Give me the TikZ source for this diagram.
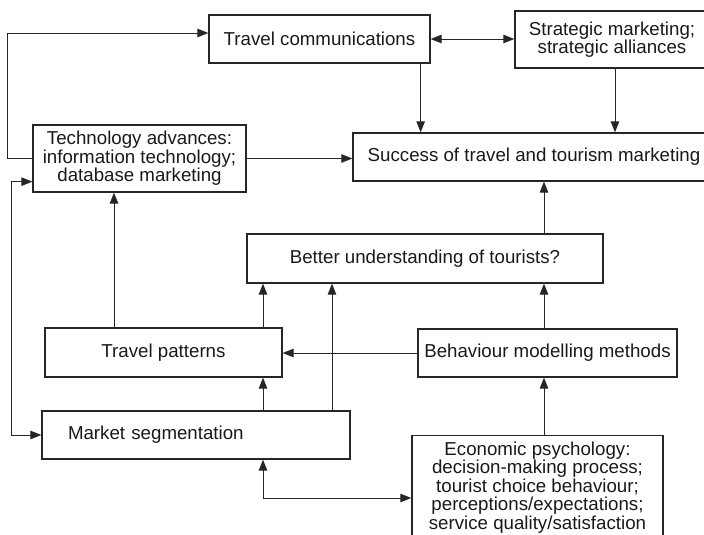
\documentclass[tikz,border=0pt]{standalone}
\usepackage{fontspec}
\setmainfont{Liberation Sans}
\usetikzlibrary{arrows.meta,calc}
\begin{document}
\begin{tikzpicture}[x=1pt,y=-1pt,
  box/.style={draw=black!85,line width=1.3pt,inner sep=0pt,align=center,
    font=\fontsize{18.7}{18.4}\selectfont,text=black!90},
  link/.style={line width=0.9pt,draw=black!85,
    -{Triangle[length=11pt,width=8.5pt]}},
  twoway/.style={line width=0.9pt,draw=black!85,
    {Triangle[length=11pt,width=8.5pt]}-{Triangle[length=11pt,width=8.5pt]}}]
\useasboundingbox (0,0) rectangle (704,535);
\clip (0,0) rectangle (704,535);

% boxes
\node[box,minimum width=221pt,minimum height=48pt] (comm) at (319.5,39) {Travel communications};
\node[box,minimum width=194pt,minimum height=57pt] (strat) at (612,39.5) {Strategic marketing;\\strategic alliances};
\node[box,minimum width=213pt,minimum height=67pt] (tech) at (139.5,158.5) {Technology advances:\\information technology;\\database marketing};
\node[box,minimum width=362pt,minimum height=48pt] (succ) at (534,157) {Success of travel and tourism marketing};
\node[box,minimum width=356pt,minimum height=49pt] (better) at (425,258.5) {Better understanding of tourists?};
\node[box,minimum width=237pt,minimum height=49pt] (patt) at (163.5,352.5) {Travel patterns};
\node[box,minimum width=259pt,minimum height=48pt] (behav) at (547.5,353) {Behaviour modelling methods};
\node[box,minimum height=48pt,text width=256pt,inner xsep=26pt,align=left] (mseg) at (196,435) {Market segmentation};
\node[box,minimum width=251pt,minimum height=104pt] (econ) at (537.5,487.5) {Economic psychology:\\decision-making process;\\tourist choice behaviour;\\perceptions/expectations;\\service quality/satisfaction};

% columns and rows shared by several connectors
\coordinate (spine) at (544,0);
\coordinate (colA) at (263,0);
\coordinate (colB) at (114,0);
\coordinate (colC) at (332,0);
\coordinate (rowE) at (0,498);

% connectors
\draw[link] (tech.west) -- ++(-25,0) |- ($(comm.west)+(0,-6)$);
\draw[twoway] ($(tech.south west)+(0,-11)$) -- ++(-21,0) |- (mseg.west);
\draw[link] (tech.east) -- (tech.east -| succ.west);
\draw[link] ($(comm.south east)+(-10,0)$) coordinate (c1) -- (c1 |- succ.north);
\draw[link] ($(strat.south)+(3,0)$) coordinate (s1) -- (s1 |- succ.north);
\draw[twoway] (comm.east) -- (comm.east -| strat.west);
\draw[link] (better.north -| spine) -- (succ.south -| spine);
\draw[link] (behav.north -| spine) -- (better.south -| spine);
\draw[link] (econ.north -| spine) -- (behav.south -| spine);
\draw[link] (patt.north -| colA) -- (better.south -| colA);
\draw[link] (patt.north -| colB) -- (tech.south -| colB);
\draw[link] (mseg.north -| colC) -- (better.south -| colC);
\draw[link] (behav.west) -- (behav.west -| patt.east);
\draw[link] (mseg.north -| colA) -- (patt.south -| colA);
\draw[twoway] (mseg.south -| colA) |- (econ.west |- rowE);
\end{tikzpicture}
\end{document}
